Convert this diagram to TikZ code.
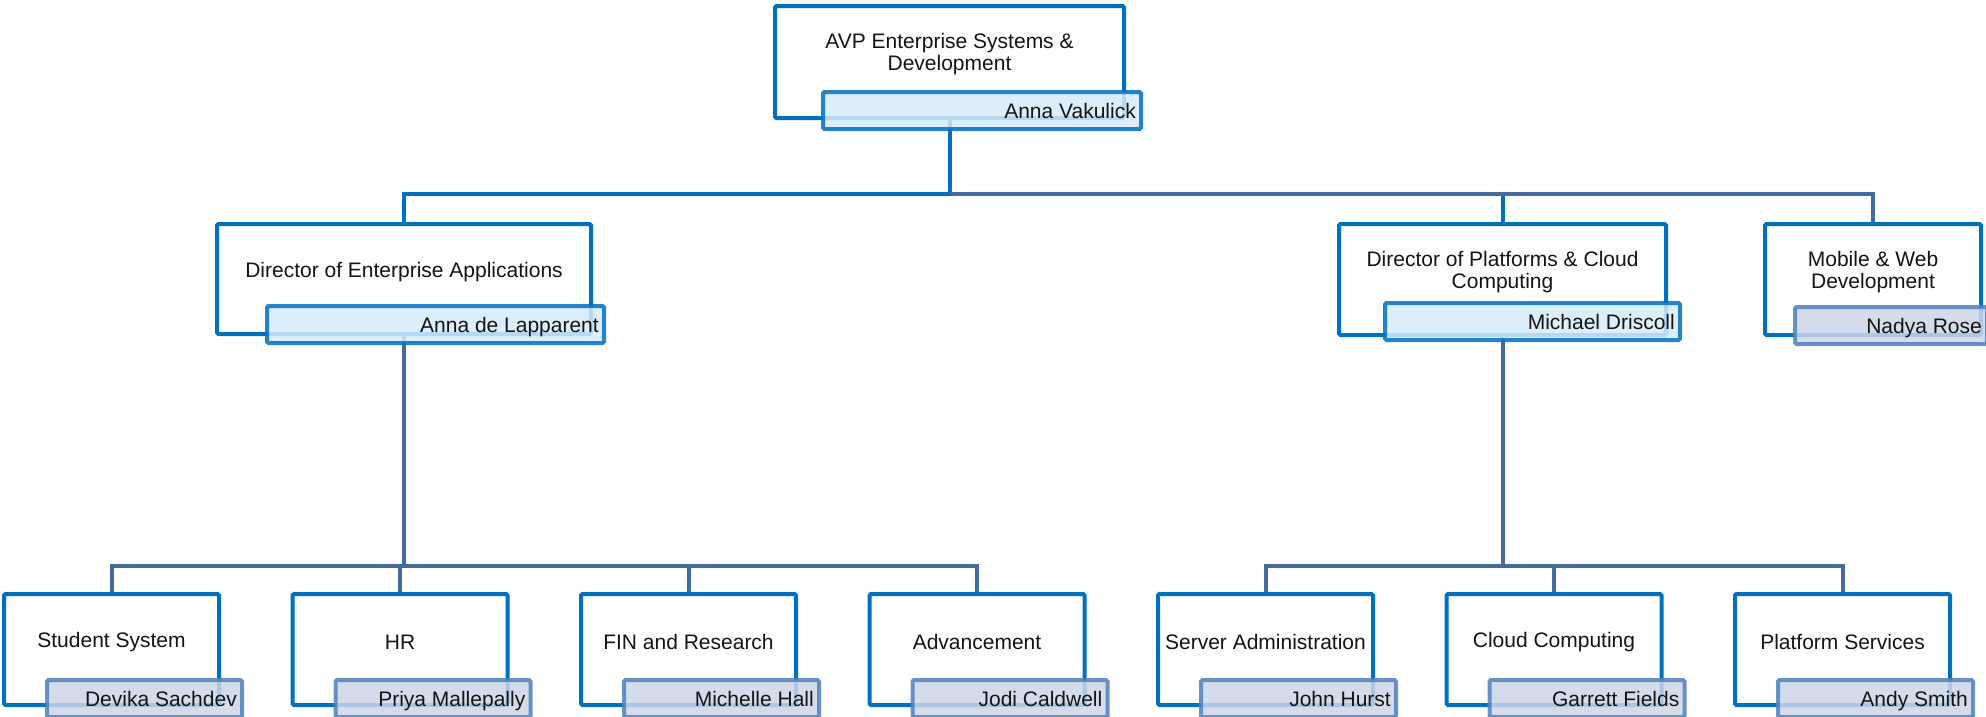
\documentclass[tikz,border=0pt]{standalone}
\usepackage{fontspec}
\setmainfont{Liberation Sans}

\definecolor{frameblue}{RGB}{0,112,192}
\definecolor{slate}{RGB}{68,106,160}
\definecolor{leadfill}{RGB}{214,235,251}
\definecolor{stafffill}{RGB}{205,214,232}
\definecolor{staffline}{RGB}{79,129,189}

\pgfdeclarelayer{wires}
\pgfsetlayers{wires,main}

\tikzset{
  unitbox/.style={draw=frameblue, line width=4pt, fill=white,
    rounded corners=1.5pt, inner sep=0pt},
  titletext/.style={align=center, inner sep=0pt, text=black!92,
    font=\fontsize{21}{22}\selectfont},
  leadname/.style={draw=frameblue, fill=leadfill, line width=4pt,
    opacity=0.85, rounded corners=1.5pt, inner sep=0pt, minimum height=37pt},
  staffname/.style={draw=staffline, fill=stafffill, line width=4pt,
    opacity=0.85, rounded corners=1.5pt, inner sep=0pt, minimum height=37pt},
  nametext/.style={anchor=east, inner sep=0pt, text=black!92,
    font=\fontsize{21}{22}\selectfont, text height=15pt, text depth=0pt},
  link/.style={line width=4pt, draw=frameblue},
  sublink/.style={line width=4pt, draw=slate},
}

% unit frame: id, left, top, width, height, title
\newcommand{\orgbox}[6]{%
  \node[unitbox, minimum width=#4pt, minimum height=#5pt, anchor=north west]
    (#1) at (#2,#3) {};
  \node[titletext] (#1-title) at ([yshift=-50pt]#1.north) {#6};
}
% person tab: id, style, left, top, width, name
\newcommand{\namebox}[6]{%
  \node[#2, minimum width=#5pt, anchor=north west] (#1) at (#3,#4) {};
  \node[nametext] (#1-text) at ([xshift=-7pt]#1.east) {#6};
}

\begin{document}
\begin{tikzpicture}[x=1pt,y=-1pt]
\useasboundingbox (0,0) rectangle (1986,716);
\coordinate (upperbar) at (0,194);
\coordinate (lowerbar) at (0,566);

% head of the unit
\orgbox{avp}{773}{4}{349}{112}{AVP Enterprise Systems \&\\Development}
\namebox{avpname}{leadname}{821}{90}{318}{Anna Vakulick}

% second level
\orgbox{dea}{215}{222}{374}{110}{Director of Enterprise Applications}
\namebox{deaname}{leadname}{265}{304}{337}{Anna de Lapparent}
\orgbox{dpc}{1337}{222}{327}{111}{Director of Platforms \& Cloud\\Computing}
\namebox{dpcname}{leadname}{1383}{301}{295}{Michael Driscoll}
\orgbox{mwd}{1763}{222}{216}{111}{Mobile \& Web\\Development}
\namebox{mwdname}{staffname}{1793}{305}{192}{Nadya Rose}

% third level
\orgbox{ss}{2}{592}{215}{111}{Student System}
\namebox{ssname}{staffname}{45}{678}{195}{Devika Sachdev}
\orgbox{hr}{290.5}{592}{215}{111}{HR}
\namebox{hrname}{staffname}{333.5}{678}{195}{Priya Mallepally}
\orgbox{fin}{579}{592}{215}{111}{FIN and Research}
\namebox{finname}{staffname}{622}{678}{195}{Michelle Hall}
\orgbox{adv}{867.5}{592}{215}{111}{Advancement}
\namebox{advname}{staffname}{910.5}{678}{195}{Jodi Caldwell}
\orgbox{sa}{1156}{592}{215}{111}{Server Administration}
\namebox{saname}{staffname}{1199}{678}{195}{John Hurst}
\orgbox{cc}{1444.5}{592}{215}{111}{Cloud Computing}
\namebox{ccname}{staffname}{1487.5}{678}{195}{Garrett Fields}
\orgbox{ps}{1733}{592}{215}{111}{Platform Services}
\namebox{psname}{staffname}{1776}{678}{195}{Andy Smith}

% reporting lines
\begin{pgfonlayer}{wires}
  \draw[link] (avp.south) -- (avp.south |- upperbar) -| (dea.north);
  \draw[link] (avp.south) -- (avp.south |- upperbar) -| (dpc.north);
  \draw[sublink] (avp.south |- upperbar) -| (mwd.north);
  \foreach \c in {ss,hr,fin,adv}
    \draw[sublink] (dea.south) -- (dea.south |- lowerbar) -| (\c.north);
  \foreach \c in {sa,cc,ps}
    \draw[sublink] (dpc.south) -- (dpc.south |- lowerbar) -| (\c.north);
\end{pgfonlayer}
\end{tikzpicture}
\end{document}
